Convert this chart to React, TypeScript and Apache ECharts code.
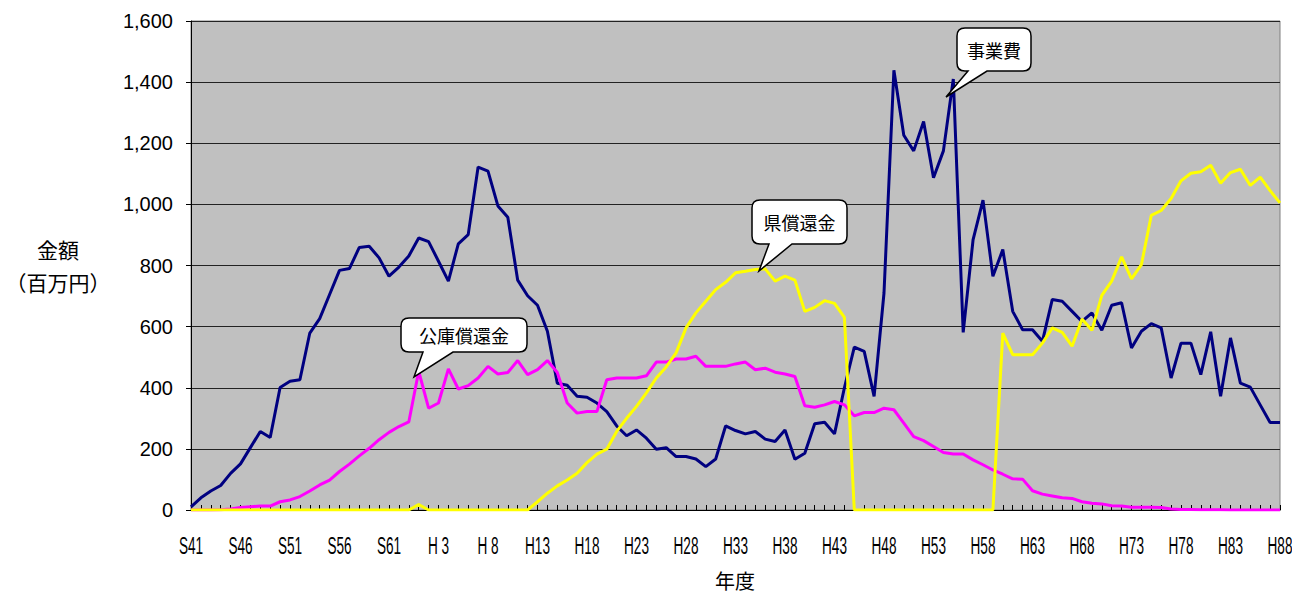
import { useEffect, useRef } from 'react';
import * as echarts from 'echarts';

// Fiscal-year categories: S41..S63, H1..H88
const showaYears: number[] = [];
for (let y = 41; y <= 63; y++) showaYears.push(y);
const heiseiYears: number[] = [];
for (let y = 1; y <= 88; y++) heiseiYears.push(y);
const categories: string[] = [
  ...showaYears.map((y) => `S${y}`),
  ...heiseiYears.map((y) => (y < 10 ? `H ${y}` : `H${y}`)),
];

// 事業費 (navy)
const jigyohi: number[] = [
  10, 40, 62, 80, 120, 151, 204, 257, 237, 401,
  421, 426, 579, 626, 705, 784, 790, 859, 863, 825,
  765, 795, 831, 890, 878, 814, 749, 871, 901, 1122,
  1109, 995, 958, 752, 701, 670, 585, 415, 408, 372,
  369, 350, 322, 275, 243, 262, 235, 199, 204, 175,
  175, 167, 142, 167, 275, 260, 249, 257, 232, 224,
  262, 166, 186, 282, 287, 249, 400, 533, 519, 372,
  710, 1439, 1226, 1175, 1271, 1087, 1175, 1410, 581, 885,
  1014, 765, 852, 650, 590, 590, 552, 689, 683, 650,
  617, 645, 588, 670, 678, 530, 585, 610, 596, 432,
  546, 546, 443, 583, 372, 563, 415, 402, 344, 286,
  286,
];

// 公庫償還金 (magenta)
const kokoShokan: number[] = [
  0, 0, 0, 1, 3, 8, 11, 13, 13, 27,
  33, 44, 62, 82, 98, 126, 150, 177, 202, 230,
  254, 273, 288, 454, 333, 350, 462, 396, 407, 432,
  470, 445, 450, 489, 443, 459, 489, 450, 350, 317,
  322, 322, 426, 432, 432, 432, 439, 484, 484, 494,
  494, 503, 470, 470, 470, 478, 484, 459, 464, 451,
  445, 437, 341, 336, 344, 355, 344, 308, 319, 319,
  333, 328, 284, 240, 227, 208, 188, 183, 183, 164,
  148, 131, 117, 102, 101, 63, 52, 46, 40, 38,
  27, 22, 20, 14, 13, 9, 9, 9, 8, 3,
  2, 2, 1, 1, 1, 0, 0, 0, 0, 0,
  0,
];

// 県償還金 (yellow)
const kenShokan: number[] = [
  0, 0, 0, 0, 0, 0, 0, 0, 0, 0,
  0, 0, 0, 0, 0, 0, 0, 0, 0, 0,
  0, 0, 0, 18, 0, 0, 0, 0, 0, 0,
  0, 0, 0, 0, 0, 27, 55, 79, 98, 120,
  155, 183, 199, 257, 300, 339, 383, 432, 468, 514,
  596, 645, 683, 721, 745, 776, 781, 787, 789, 749,
  765, 752, 650, 663, 685, 676, 630, 0, 0, 0,
  0, 0, 0, 0, 0, 0, 0, 0, 0, 0,
  0, 0, 579, 508, 508, 508, 546, 596, 581, 536,
  625, 588, 702, 749, 828, 756, 803, 964, 980, 1019,
  1077, 1102, 1107, 1128, 1069, 1104, 1115, 1062, 1089, 1045,
  1005,
];

const seriesNames = ['事業費', '公庫償還金', '県償還金'];
const seriesColors = ['#000080', '#FF00FF', '#FFFF00'];

const CJK = "'Noto Sans CJK JP', 'Noto Sans', sans-serif";
const LATIN = "'Liberation Sans', Arial, sans-serif";

function calloutPath(
  x0: number, y0: number, x1: number, y1: number, r: number,
  b1: number, b2: number, tx: number, ty: number
): string {
  return [
    `M ${x0 + r} ${y0}`,
    `L ${x1 - r} ${y0}`,
    `Q ${x1} ${y0} ${x1} ${y0 + r}`,
    `L ${x1} ${y1 - r}`,
    `Q ${x1} ${y1} ${x1 - r} ${y1}`,
    `L ${b2} ${y1}`,
    `L ${tx} ${ty}`,
    `L ${b1} ${y1}`,
    `L ${x0 + r} ${y1}`,
    `Q ${x0} ${y1} ${x0} ${y1 - r}`,
    `L ${x0} ${y0 + r}`,
    `Q ${x0} ${y0} ${x0 + r} ${y0}`,
    'Z',
  ].join(' ');
}

const callouts = [
  { name: 'calloutKoko', text: '公庫償還金', box: [401, 318, 527, 352], base: [423, 453], tip: [414, 377] },
  { name: 'calloutKen', text: '県償還金', box: [752, 200, 847, 244], base: [769, 792], tip: [759, 271] },
  { name: 'calloutJigyo', text: '事業費', box: [957, 28, 1031, 71], base: [968, 987], tip: [946, 97] },
];

export default function App() {
  const ref = useRef<HTMLDivElement>(null);

  useEffect(() => {
    const el = ref.current;
    if (!el) return;
    const chart = echarts.init(el, null, { renderer: 'svg' });

    const dataSets = [jigyohi, kokoShokan, kenShokan];

    chart.setOption({
      animation: false,
      backgroundColor: '#ffffff',
      grid: {
        left: 191,
        right: 12,
        top: 21,
        bottom: 85,
        show: true,
        backgroundColor: '#C0C0C0',
        borderColor: '#808080',
        borderWidth: 1,
      },
      xAxis: {
        type: 'category',
        data: categories,
        boundaryGap: false,
        axisLine: { show: true, lineStyle: { color: '#000', width: 1 } },
        axisTick: { show: true, inside: true, length: 5, interval: 0, lineStyle: { color: '#000', width: 1 } },
        axisLabel: { show: false },
        splitLine: { show: false },
      },
      yAxis: {
        type: 'value',
        min: 0,
        max: 1600,
        interval: 200,
        axisLine: { show: true, lineStyle: { color: '#000', width: 1 } },
        axisTick: { show: true, inside: false, length: 5, lineStyle: { color: '#000' } },
        axisLabel: {
          color: '#000',
          fontSize: 20,
          fontFamily: LATIN,
          margin: 18,
          formatter: (v: number) => v.toLocaleString('en-US'),
        },
        splitLine: { show: true, lineStyle: { color: '#222222', width: 1 } },
      },
      series: dataSets.map((d, k) => ({
        name: seriesNames[k],
        type: 'line',
        data: d,
        symbol: 'none',
        smooth: false,
        lineStyle: { color: seriesColors[k], width: 3 },
        itemStyle: { color: seriesColors[k] },
        z: 2 + k,
      })),
    });

    const graphics: any[] = [];

    callouts.forEach((c) => {
      const [x0, y0, x1, y1] = c.box;
      const d = calloutPath(x0, y0, x1, y1, 8, c.base[0], c.base[1], c.tip[0], c.tip[1]);
      echarts.graphic.registerShape(c.name, echarts.graphic.extendPath(d, {}) as any);
      graphics.push({
        type: c.name,
        x: 0,
        y: 0,
        z: 100,
        style: { fill: '#ffffff', stroke: '#000000', lineWidth: 1.5 },
      });
      graphics.push({
        type: 'text',
        x: (x0 + x1) / 2,
        y: (y0 + y1) / 2,
        z: 101,
        style: {
          text: c.text,
          fontSize: 18,
          fontFamily: CJK,
          fill: '#000',
          align: 'center',
          verticalAlign: 'middle',
          textAlign: 'center',
          textVerticalAlign: 'middle',
        },
      });
    });

    // x-axis labels (tall, narrow), positioned by the category axis scale
    categories.forEach((c, i) => {
      if (i % 5 !== 0) return;
      const px = chart.convertToPixel({ xAxisIndex: 0 }, i) as unknown as number;
      graphics.push({
        type: 'text',
        x: px,
        y: 545,
        scaleX: 0.85,
        scaleY: 1.5,
        z: 50,
        style: {
          text: c,
          fontSize: 16,
          fontFamily: LATIN,
          fill: '#000',
          align: 'center',
          verticalAlign: 'middle',
          textAlign: 'center',
          textVerticalAlign: 'middle',
        },
      });
    });

    // axis titles
    graphics.push({
      type: 'text',
      x: 58,
      y: 265,
      z: 50,
      style: {
        text: '金額\n（百万円）',
        fontSize: 21,
        lineHeight: 33,
        fontFamily: CJK,
        fill: '#000',
        align: 'center',
        verticalAlign: 'middle',
        textAlign: 'center',
        textVerticalAlign: 'middle',
      },
    });
    graphics.push({
      type: 'text',
      x: 735,
      y: 580,
      z: 50,
      style: {
        text: '年度',
        fontSize: 20,
        fontFamily: CJK,
        fill: '#000',
        align: 'center',
        verticalAlign: 'middle',
        textAlign: 'center',
        textVerticalAlign: 'middle',
      },
    });

    chart.setOption({ graphic: graphics });

    return () => {
      chart.dispose();
    };
  }, []);

  return (
    <div
      ref={ref}
      style={{ position: 'fixed', left: 0, top: 0, width: 1292, height: 595 }}
    />
  );
}
